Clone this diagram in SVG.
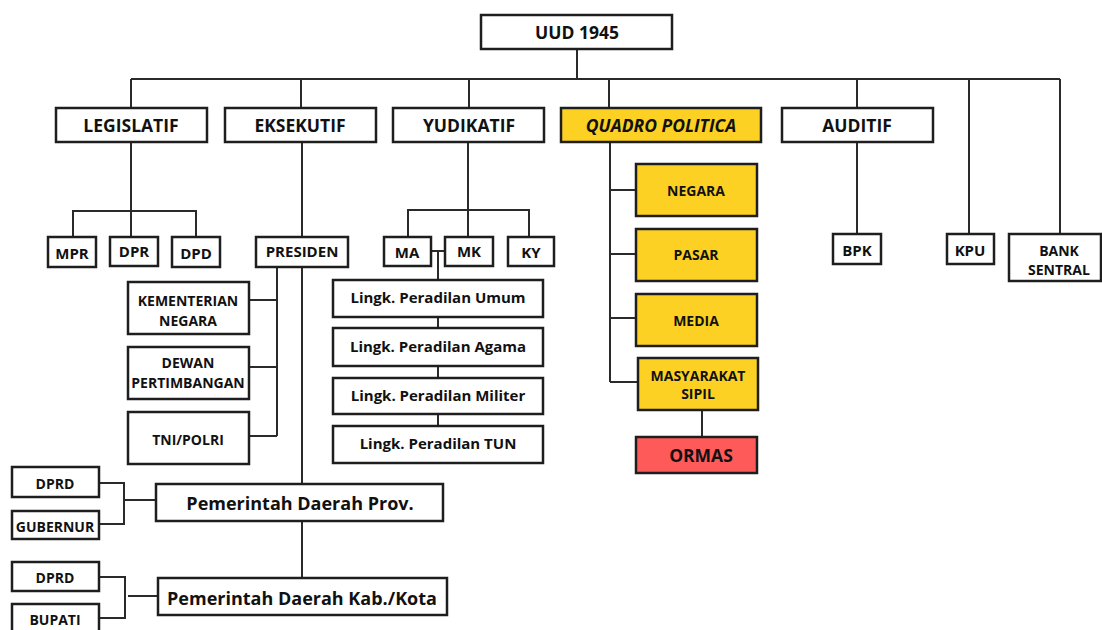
<svg xmlns="http://www.w3.org/2000/svg" width="1102" height="630" viewBox="0 0 1102 630">
<style>
  .b{fill:#fff;stroke:#1e1e1e;stroke-width:2.5}
  .y{fill:#fdd124;stroke:#1e1e1e;stroke-width:2.5}
  .r{fill:#ff5a5a;stroke:#1e1e1e;stroke-width:2.5}
  text{font-family:"Open Sans","Noto Sans",sans-serif;font-weight:700;fill:#111;text-anchor:middle;dominant-baseline:central}
  .t1{font-size:17.5px}
  .t2{font-size:15px}
  .t3{font-size:14px}
  .t4{font-size:18px}
  .c{fill:none;stroke:#2a2a2a;stroke-width:2}
</style>
<rect width="1102" height="630" fill="#fff"/>
<g id="connectors" class="c">
  <path class="c" d="M577,49V79M131,79H1060M131,79V108M301,79V108M469,79V108M609,79V108M857,79V108M969,79V234M1060,79V234"/>
  <path class="c" d="M131,142V211M73,237V211H196V237M131,211V237"/>
  <path class="c" d="M302,142V237M302,267V484M302,521V578"/>
  <path class="c" d="M277,267V436M249,300H277M249,367H277M249,436H277"/>
  <path class="c" d="M468,142V210M408,237V210H529V237M468,210V237M431,251H445M438,251V280M438,317V328M438,366V378M438,414V426"/>
  <path class="c" d="M610,142V382M610,190H636M610,254H636M610,318H636M610,382H638M702,410V437"/>
  <path class="c" d="M857,142V234"/>
  <path class="c" d="M99,483H124V524H99M124,500H156M99,577H125V618H99M128,596H158"/>
</g>
<g id="uud"><rect class="b" x="481" y="15" width="191" height="34"/><text class="t1" x="577" y="32">UUD 1945</text></g>
<g id="legislatif"><rect class="b" x="56" y="108" width="151" height="34"/><text class="t1" x="131" y="125">LEGISLATIF</text></g>
<g id="eksekutif"><rect class="b" x="225" y="108" width="151" height="34"/><text class="t1" x="300" y="125">EKSEKUTIF</text></g>
<g id="yudikatif"><rect class="b" x="393" y="108" width="151" height="34"/><text class="t1" x="469" y="125">YUDIKATIF</text></g>
<g id="quadro"><rect class="y" x="561" y="108" width="200" height="34"/><text class="t1" x="661" y="125" font-style="italic">QUADRO POLITICA</text></g>
<g id="auditif"><rect class="b" x="782" y="108" width="151" height="34"/><text class="t1" x="857" y="125">AUDITIF</text></g>
<g id="mpr"><rect class="b" x="48" y="237" width="48" height="30"/><text class="t2" x="72" y="253">MPR</text></g>
<g id="dpr"><rect class="b" x="110" y="237" width="48" height="29"/><text class="t2" x="134" y="251">DPR</text></g>
<g id="dpd"><rect class="b" x="172" y="237" width="48" height="30"/><text class="t2" x="196" y="253">DPD</text></g>
<g id="presiden"><rect class="b" x="256" y="237" width="92" height="30"/><text class="t2" x="302" y="251">PRESIDEN</text></g>
<g id="ma"><rect class="b" x="384" y="237" width="47" height="29"/><text class="t2" x="407" y="252">MA</text></g>
<g id="mk"><rect class="b" x="445" y="237" width="48" height="29"/><text class="t2" x="469" y="251">MK</text></g>
<g id="ky"><rect class="b" x="508" y="237" width="46" height="29"/><text class="t2" x="531" y="252">KY</text></g>
<g id="bpk"><rect class="b" x="833" y="234" width="48" height="30"/><text class="t2" x="857" y="250">BPK</text></g>
<g id="kpu"><rect class="b" x="947" y="234" width="47" height="30"/><text class="t2" x="970" y="250">KPU</text></g>
<g id="bank"><rect class="b" x="1009" y="234" width="92" height="47"/><text class="t3" x="1059" y="250">BANK</text><text class="t3" x="1059" y="269">SENTRAL</text></g>
<g id="kementerian"><rect class="b" x="128" y="282" width="121" height="52"/><text class="t3" x="188" y="300">KEMENTERIAN</text><text class="t3" x="188" y="320">NEGARA</text></g>
<g id="dewan"><rect class="b" x="128" y="347" width="121" height="52"/><text class="t3" x="188" y="362">DEWAN</text><text class="t3" x="188" y="382">PERTIMBANGAN</text></g>
<g id="tni"><rect class="b" x="128" y="412" width="121" height="52"/><text class="t3" x="188" y="439">TNI/POLRI</text></g>
<g id="umum"><rect class="b" x="333" y="280" width="210" height="37"/><text class="t2" x="438" y="297">Lingk. Peradilan Umum</text></g>
<g id="agama"><rect class="b" x="333" y="328" width="210" height="38"/><text class="t2" x="438" y="346">Lingk. Peradilan Agama</text></g>
<g id="militer"><rect class="b" x="333" y="378" width="210" height="36"/><text class="t2" x="438" y="395">Lingk. Peradilan Militer</text></g>
<g id="tun"><rect class="b" x="333" y="426" width="210" height="37"/><text class="t2" x="438" y="443">Lingk. Peradilan TUN</text></g>
<g id="negara"><rect class="y" x="636" y="164" width="121" height="52"/><text class="t3" x="696" y="190">NEGARA</text></g>
<g id="pasar"><rect class="y" x="636" y="229" width="121" height="52"/><text class="t3" x="696" y="254">PASAR</text></g>
<g id="media"><rect class="y" x="636" y="294" width="121" height="52"/><text class="t3" x="696" y="320">MEDIA</text></g>
<g id="masyarakat"><rect class="y" x="638" y="358" width="120" height="52"/><text class="t3" x="698" y="375">MASYARAKAT</text><text class="t3" x="698" y="393">SIPIL</text></g>
<g id="ormas"><rect class="r" x="636" y="437" width="121" height="36"/><text x="701" y="455" font-size="17.5px">ORMAS</text></g>
<g id="dprd1"><rect class="b" x="12" y="467" width="87" height="30"/><text class="t3" x="55" y="483">DPRD</text></g>
<g id="gubernur"><rect class="b" x="12" y="511" width="87" height="28"/><text class="t3" x="55" y="526">GUBERNUR</text></g>
<g id="prov"><rect class="b" x="156" y="484" width="287" height="37"/><text class="t4" x="300" y="503">Pemerintah Daerah Prov.</text></g>
<g id="dprd2"><rect class="b" x="12" y="562" width="87" height="29"/><text class="t3" x="55" y="577">DPRD</text></g>
<g id="bupati"><rect class="b" x="12" y="604" width="87" height="30"/><text class="t3" x="55" y="619">BUPATI</text></g>
<g id="kab"><rect class="b" x="158" y="578" width="289" height="37"/><text class="t4" x="302" y="598">Pemerintah Daerah Kab./Kota</text></g>
</svg>
